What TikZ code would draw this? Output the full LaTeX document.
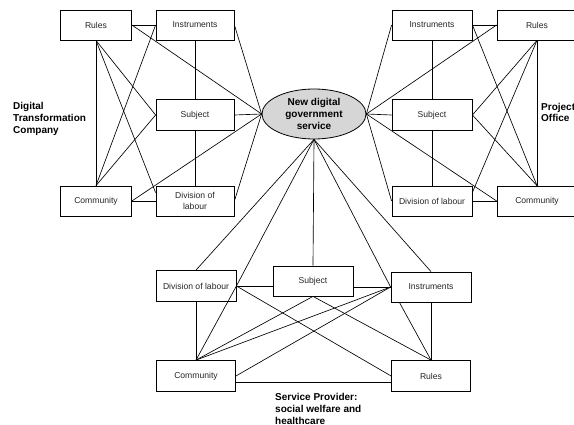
\documentclass[tikz,border=0pt]{standalone}
\usepackage{fontspec}
\setmainfont{Liberation Sans}
\usetikzlibrary{shapes.geometric}

\begin{document}
\begin{tikzpicture}[x=1pt,y=-1pt,
    box/.style={draw,line width=0.8pt,fill=white,minimum height=30pt,inner sep=1pt,align=center,text=black!85,font=\fontsize{8.6}{11}\selectfont},
    tag/.style={anchor=west,align=left,inner sep=0pt,font=\fontsize{10}{11.7}\selectfont\bfseries},
    link/.style={line width=0.65pt}]
    \useasboundingbox (0,0) rectangle (574,425);
    \clip (0,0) rectangle (574,425);

    \node[ellipse,draw,line width=0.8pt,fill=black!16,minimum width=104pt,minimum height=50pt,inner sep=0pt,align=center,font=\fontsize{10}{12}\selectfont\bfseries] (service) at (314,114) {New digital\\government\\service};

    % Digital Transformation Company
    \node[box,minimum width=71pt] (dt-rules) at (96,25) {Rules};
    \node[box,minimum width=78pt] (dt-instr) at (195,25) {Instruments};
    \node[box,minimum width=78pt,minimum height=31pt] (dt-subj) at (195,115) {Subject};
    \node[box,minimum width=71pt] (dt-comm) at (96,201) {Community};
    \node[box,minimum width=78pt] (dt-div) at (195,201) {Division of\\labour};
    \node[tag] (dt-label) at (13,119) {Digital\\Transformation\\Company};

    % Project Office
    \node[box,minimum width=80pt] (po-instr) at (432,25) {Instruments};
    \node[box,minimum width=80pt] (po-rules) at (537,25) {Rules};
    \node[box,minimum width=80pt,minimum height=31pt] (po-subj) at (432,115) {Subject};
    \node[box,minimum width=80pt] (po-div) at (432,201) {Division of labour};
    \node[box,minimum width=80pt] (po-comm) at (537,201) {Community};
    \node[tag] (po-label) at (541,112.5) {Project\\Office};

    % Service Provider
    \node[box,minimum width=80pt,minimum height=31pt] (sp-div) at (196,286) {Division of labour};
    \node[box,minimum width=80pt] (sp-subj) at (313,281) {Subject};
    \node[box,minimum width=80pt] (sp-instr) at (431,287) {Instruments};
    \node[box,minimum width=79pt,minimum height=31pt] (sp-comm) at (196,376) {Community};
    \node[box,minimum width=79pt,minimum height=31pt] (sp-rules) at (431,376) {Rules};
    \node[tag] (sp-label) at (275,409) {Service Provider:\\social welfare and\\healthcare};

    \begin{scope}[link]
    % left system
    \draw (dt-rules.east) -- (dt-instr.west);
    \draw (dt-rules.south) -- (dt-comm.north);
    \draw (dt-rules.south) -- (dt-subj.west);
    \draw (dt-rules.south) -- (dt-div.168);
    \draw (dt-comm.north) -- (dt-instr.west);
    \draw (dt-comm.north) -- (dt-subj.west);
    \draw (dt-comm.east) -- (dt-div.west);
    \draw (dt-instr.south) -- (dt-subj.north);
    \draw (dt-subj.south) -- (dt-div.north);
    \foreach \n in {dt-rules,dt-instr,dt-subj,dt-div,dt-comm}
        \draw (\n.east) -- (service.west);

    % right system
    \draw (po-instr.east) -- (po-rules.west);
    \draw (po-rules.south) -- (po-comm.north);
    \draw (po-rules.south) -- (po-subj.east);
    \draw (po-rules.south) -- (po-div.12);
    \draw (po-comm.north) -- (po-instr.east);
    \draw (po-comm.north) -- (po-subj.east);
    \draw (po-div.east) -- (po-comm.west);
    \draw (po-instr.south) -- (po-subj.north);
    \draw (po-subj.south) -- (po-div.north);
    \foreach \n in {po-instr,po-rules,po-subj,po-div,po-comm}
        \draw (service.east) -- (\n.west);

    % bottom system
    \draw (service.south) -- (sp-div.north);
    \draw (service.south) -- (sp-div.east);
    \draw (service.south) -- (sp-subj.north);
    \draw (service.south) -- (sp-instr.west);
    \draw (service.south) -- (sp-instr.north);
    \draw (sp-div.east) -- (sp-div.east -| sp-subj.west);
    \draw (sp-instr.west -| sp-subj.east) -- (sp-instr.west);
    \draw (sp-div.south) -- (sp-comm.north);
    \draw (sp-div.east) -- (sp-comm.north);
    \draw (sp-div.east) -- (sp-rules.west);
    \draw (sp-subj.south) -- (sp-comm.north);
    \draw (sp-subj.south) -- (sp-rules.north);
    \draw (sp-instr.west) -- (sp-comm.north);
    \draw (sp-instr.west) -- (sp-comm.east);
    \draw (sp-instr.206) -- (sp-rules.north);
    \draw (sp-instr.south) -- (sp-rules.north);
    \draw ([yshift=-6pt]sp-comm.east) -- ([yshift=-6pt]sp-rules.west);
    \end{scope}
\end{tikzpicture}
\end{document}
